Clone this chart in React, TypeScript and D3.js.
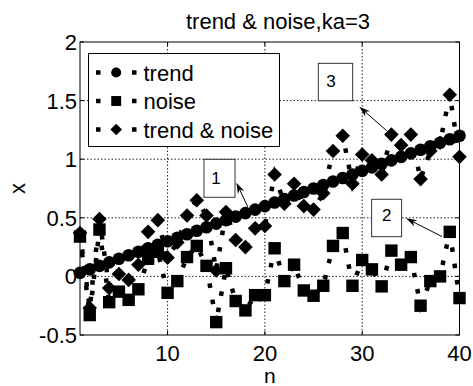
import React from 'react';
import * as d3 from 'd3';

const N = [1,2,3,4,5,6,7,8,9,10,11,12,13,14,15,16,17,18,19,20,21,22,23,24,25,26,27,28,29,30,31,32,33,34,35,36,37,38,39,40];
const TREND = [0.03,0.06,0.09,0.12,0.15,0.18,0.21,0.24,0.27,0.30,0.33,0.36,0.39,0.42,0.45,0.48,0.51,0.54,0.57,0.60,0.63,0.66,0.69,0.72,0.75,0.78,0.81,0.84,0.87,0.90,0.93,0.96,0.99,1.02,1.05,1.08,1.11,1.14,1.17,1.20];
const NOISE = [0.34,-0.33,0.40,-0.22,-0.13,-0.20,-0.11,0.15,0.21,-0.14,-0.04,0.165,0.26,0.09,-0.39,0.07,-0.21,-0.29,-0.16,-0.16,0.24,-0.04,0.10,-0.12,-0.165,-0.08,0.26,0.37,-0.08,0.14,0.06,-0.085,0.22,0.10,0.165,-0.25,-0.04,0.0,0.38,-0.185];
const TREND_NOISE = [0.37,-0.27,0.49,-0.10,0.02,-0.03,0.10,0.38,0.48,0.16,0.29,0.52,0.65,0.52,0.05,0.55,0.31,0.25,0.41,0.43,0.87,0.62,0.79,0.60,0.57,0.71,1.07,1.20,0.79,1.04,0.99,0.87,1.21,1.12,1.21,0.83,1.07,1.14,1.55,1.02];
const X_TICKS = [10, 20, 30, 40];
const Y_TICKS = [-0.5, 0, 0.5, 1, 1.5, 2];
const Y_TICK_LABELS = ['-0.5', '0', '0.5', '1', '1.5', '2'];
const SERIES_NAMES = ['trend', 'noise', 'trend & noise'];
const MARKERS = ['circle', 'square', 'diamond'];
const TITLE = 'trend & noise,ka=3';
const X_LABEL = 'n';
const Y_LABEL = 'x';

// annotations in data units: box [n0, n1, v0, v1], text pos, arrow tail -> head
const ANN_LABELS = ['1', '2', '3'];
const ANN_BOXES = [[13.74, 16.93, 0.675, 0.999], [30.97, 34.05, 0.339, 0.658], [25.49, 29.02, 1.499, 1.818]];
const ANN_TEXT = [[14.98, 0.837], [32.52, 0.524], [26.79, 1.67]];
const ANN_TAIL = [[18.25, 0.592], [38.2, 0.34], [32.52, 1.243]];
const ANN_HEAD = [[17.07, 0.80], [34.5, 0.496], [29.7, 1.448]];

const W = 473, H = 386;
const M = { left: 80, right: 459.5, top: 42, bottom: 335 };
const FONT = '"Liberation Sans", Arial, sans-serif';

function Marker({ type, x, y, s = 1 }: { type: string; x: number; y: number; s?: number }) {
  if (type === 'circle') return <circle cx={x} cy={y} r={6.3 * s} fill="#000" />;
  if (type === 'square') { const h = 6.2 * s; return <rect x={x - h} y={y - h} width={2 * h} height={2 * h} fill="#000" />; }
  const d = 7.3 * s;
  return <path d={`M${x},${y - d}L${x + d},${y}L${x},${y + d}L${x - d},${y}Z`} fill="#000" />;
}

export default function App() {
  const x = d3.scaleLinear().domain([1, 40]).range([M.left, M.right]);
  const y = d3.scaleLinear().domain([-0.5, 2]).range([M.bottom, M.top]);
  const series = [TREND, NOISE, TREND_NOISE];
  const line = d3.line<number>().x((_, i) => x(N[i])).y((d) => y(d));
  const dash = '4.5 12';

  const arrow = (t: number[], h: number[], key: number) => {
    const x1 = x(t[0]), y1 = y(t[1]), x2 = x(h[0]), y2 = y(h[1]);
    const ang = Math.atan2(y2 - y1, x2 - x1);
    const len = 11, wd = 3.5;
    const bx = x2 - len * Math.cos(ang), by = y2 - len * Math.sin(ang);
    const nx = -Math.sin(ang), ny = Math.cos(ang);
    const mx = x2 - len * 0.7 * Math.cos(ang), my = y2 - len * 0.7 * Math.sin(ang);
    return (
      <g key={'a' + key}>
        <line x1={x1} y1={y1} x2={mx} y2={my} stroke="#000" strokeWidth={1} />
        <path d={`M${x2},${y2}L${bx + nx * wd},${by + ny * wd}L${mx},${my}L${bx - nx * wd},${by - ny * wd}Z`} fill="#000" />
      </g>
    );
  };

  return (
    <svg width={W} height={H} style={{ position: 'absolute', left: 0, top: 0, background: '#fff' }} fontFamily={FONT}>
      <rect x={0} y={0} width={W} height={H} fill="#fff" />
      {/* grid */}
      {X_TICKS.filter((t) => t < 40).map((t) => (
        <line key={'gx' + t} x1={x(t)} x2={x(t)} y1={M.top} y2={M.bottom} stroke="#222" strokeWidth={1} strokeDasharray="1.5 2" />
      ))}
      {Y_TICKS.filter((t) => t > -0.5 && t < 2).map((t) => (
        <line key={'gy' + t} x1={M.left} x2={M.right} y1={y(t)} y2={y(t)} stroke="#222" strokeWidth={1} strokeDasharray="1.5 2" />
      ))}
      {/* frame */}
      <rect x={M.left} y={M.top} width={M.right - M.left} height={M.bottom - M.top} fill="none" stroke="#000" strokeWidth={1} />
      {X_TICKS.map((t) => (
        <g key={'tx' + t}>
          <line x1={x(t)} x2={x(t)} y1={M.bottom} y2={M.bottom - 4} stroke="#000" />
          <line x1={x(t)} x2={x(t)} y1={M.top} y2={M.top + 4} stroke="#000" />
          <text x={x(t)} y={361} textAnchor="middle" fontSize={22}>{t}</text>
        </g>
      ))}
      {Y_TICKS.map((t, i) => (
        <g key={'ty' + t}>
          <line x1={M.left} x2={M.left + 4} y1={y(t)} y2={y(t)} stroke="#000" />
          <line x1={M.right} x2={M.right - 4} y1={y(t)} y2={y(t)} stroke="#000" />
          <text x={77} y={y(t) + 8} textAnchor="end" fontSize={22}>{Y_TICK_LABELS[i]}</text>
        </g>
      ))}
      {/* series */}
      {series.map((s, si) => (
        <g key={'s' + si}>
          <path d={line(s) || ''} fill="none" stroke="#000" strokeWidth={4.5} strokeDasharray={dash} />
          {s.map((v, i) => (
            <Marker key={i} type={MARKERS[si]} x={x(N[i])} y={y(v)} />
          ))}
        </g>
      ))}
      {/* annotations */}
      {ANN_LABELS.map((lab, i) => {
        const b = ANN_BOXES[i];
        return (
          <g key={'ann' + i}>
            <rect x={x(b[0])} y={y(b[3])} width={x(b[1]) - x(b[0])} height={y(b[2]) - y(b[3])} fill="#fff" stroke="#333" strokeWidth={1} />
            <text x={x(ANN_TEXT[i][0])} y={y(ANN_TEXT[i][1]) + 6} textAnchor="middle" fontSize={17}>{lab}</text>
            {arrow(ANN_TAIL[i], ANN_HEAD[i], i)}
          </g>
        );
      })}
      {/* legend */}
      <rect x={88.5} y={53.5} width={191} height={93} fill="#fff" stroke="#000" strokeWidth={1} />
      {SERIES_NAMES.map((name, i) => {
        const ly = 72.5 + i * 28.5;
        return (
          <g key={'lg' + i}>
            <line x1={96} x2={136.5} y1={ly} y2={ly} stroke="#000" strokeWidth={4.5} strokeDasharray="4.5 13.5" />
            <Marker type={MARKERS[i]} x={116.2} y={ly} s={0.8} />
            <text x={143.5} y={ly + 8} fontSize={22}>{name}</text>
          </g>
        );
      })}
      {/* labels */}
      <text x={278} y={29} textAnchor="middle" fontSize={22}>{TITLE}</text>
      <text x={(M.left + M.right) / 2} y={383} textAnchor="middle" fontSize={21}>{X_LABEL}</text>
      <text transform={`translate(25,${(M.top + M.bottom) / 2}) rotate(-90)`} textAnchor="middle" fontSize={22}>{Y_LABEL}</text>
    </svg>
  );
}
